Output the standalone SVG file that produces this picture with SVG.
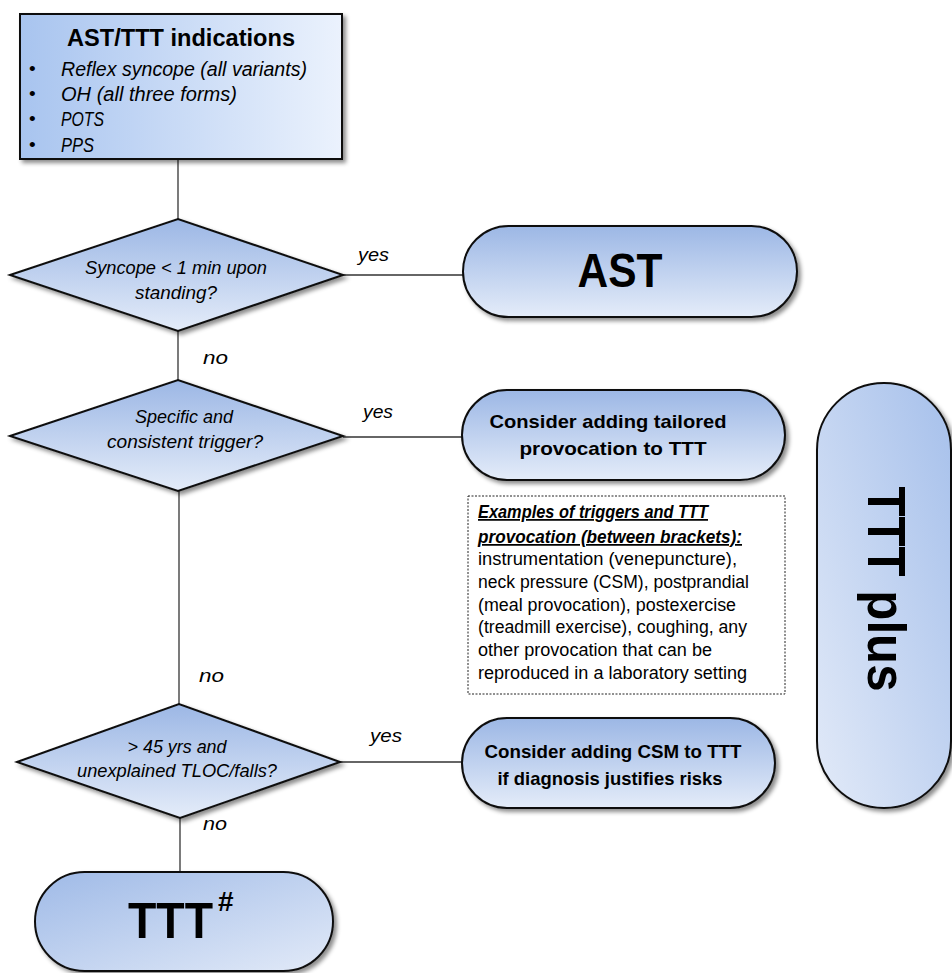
<svg xmlns="http://www.w3.org/2000/svg" width="952" height="973" viewBox="0 0 952 973">
<defs>
  <linearGradient id="gH" x1="0" y1="0" x2="1" y2="0">
    <stop offset="0" stop-color="#a8c4ef"/>
    <stop offset="1" stop-color="#ebf2fd"/>
  </linearGradient>
  <linearGradient id="gV" x1="0" y1="0" x2="0" y2="1">
    <stop offset="0" stop-color="#9cb7e5"/>
    <stop offset="1" stop-color="#e4ecf9"/>
  </linearGradient>
  <linearGradient id="gPlus" x1="1" y1="0" x2="0" y2="1">
    <stop offset="0" stop-color="#a6c0eb"/>
    <stop offset="1" stop-color="#e2eaf8"/>
  </linearGradient>
  <linearGradient id="gTTT" x1="0" y1="0" x2="1" y2="1">
    <stop offset="0" stop-color="#9fbae7"/>
    <stop offset="1" stop-color="#e2eaf8"/>
  </linearGradient>
  <filter id="sh" x="-10%" y="-10%" width="130%" height="130%">
    <feDropShadow dx="3" dy="3" stdDeviation="2" flood-color="#000" flood-opacity="0.45"/>
  </filter>
</defs>
<style>
  .shape{stroke:#111;stroke-width:2;filter:url(#sh)}
  .t{font-family:"Liberation Sans",Arial,sans-serif;fill:#000}
  .b{font-weight:bold}
  .i{font-style:italic}
  .c{text-anchor:middle}
  .conn{stroke:#333;stroke-width:1.3;fill:none}
  .lbl{font-family:"Liberation Sans",Arial,sans-serif;font-style:italic;font-size:19px;fill:#000}
</style>
<rect width="952" height="973" fill="#fff"/>

<g id="connectors">
  <line class="conn" x1="178" y1="160" x2="178" y2="219"/>
  <line class="conn" x1="343" y1="275" x2="463" y2="275"/>
  <line class="conn" x1="178" y1="331" x2="178" y2="380"/>
  <line class="conn" x1="343" y1="437" x2="462" y2="437"/>
  <line class="conn" x1="179" y1="491" x2="179" y2="704"/>
  <line class="conn" x1="340" y1="762" x2="462" y2="762"/>
  <line class="conn" x1="180" y1="818" x2="180" y2="872"/>
  <text class="lbl" x="358" y="261" textLength="31" lengthAdjust="spacingAndGlyphs">yes</text>
  <text class="lbl" x="203" y="364" textLength="25" lengthAdjust="spacingAndGlyphs">no</text>
  <text class="lbl" x="363" y="418" textLength="30" lengthAdjust="spacingAndGlyphs">yes</text>
  <text class="lbl" x="199" y="682" textLength="25" lengthAdjust="spacingAndGlyphs">no</text>
  <text class="lbl" x="370" y="742" textLength="32" lengthAdjust="spacingAndGlyphs">yes</text>
  <text class="lbl" x="203" y="830" textLength="24" lengthAdjust="spacingAndGlyphs">no</text>
</g>

<g id="indications">
  <rect class="shape" x="20" y="14" width="322" height="145" fill="url(#gH)"/>
  <text class="t b c" x="181" y="46" font-size="24" textLength="228" lengthAdjust="spacingAndGlyphs">AST/TTT indications</text>
  <g class="t" font-size="19">
    <text x="29" y="75">•</text>
    <text x="29" y="100">•</text>
    <text x="29" y="125">•</text>
    <text x="29" y="151">•</text>
  </g>
  <g class="t i" font-size="20">
    <text x="61" y="76" textLength="246" lengthAdjust="spacingAndGlyphs">Reflex syncope (all variants)</text>
    <text x="61" y="101" textLength="176" lengthAdjust="spacingAndGlyphs">OH (all three forms)</text>
    <text x="61" y="126" textLength="43" lengthAdjust="spacingAndGlyphs">POTS</text>
    <text x="61" y="152" textLength="33" lengthAdjust="spacingAndGlyphs">PPS</text>
  </g>
</g>

<g id="q1">
  <polygon class="shape" points="10,275 178,219 343,275 178,331" fill="url(#gV)"/>
  <text class="t i c" x="176" y="274" font-size="18" textLength="182" lengthAdjust="spacingAndGlyphs">Syncope &lt; 1 min upon</text>
  <text class="t i c" x="176" y="299" font-size="18" textLength="82" lengthAdjust="spacingAndGlyphs">standing?</text>
</g>

<g id="ast">
  <rect class="shape" x="463" y="226" width="334" height="91" rx="45.5" fill="url(#gV)"/>
  <text class="t b c" x="620" y="287" font-size="49" textLength="85" lengthAdjust="spacingAndGlyphs">AST</text>
</g>

<g id="q2">
  <polygon class="shape" points="10,436 178,380 343,436 178,491" fill="url(#gV)"/>
  <text class="t i c" x="184" y="423" font-size="18" textLength="98" lengthAdjust="spacingAndGlyphs">Specific and</text>
  <text class="t i c" x="185" y="448" font-size="18" textLength="156" lengthAdjust="spacingAndGlyphs">consistent trigger?</text>
</g>

<g id="tailored">
  <rect class="shape" x="462" y="390" width="323" height="90" rx="45" fill="url(#gV)"/>
  <text class="t b c" x="608" y="428" font-size="19" textLength="237" lengthAdjust="spacingAndGlyphs">Consider adding  tailored</text>
  <text class="t b c" x="613" y="455" font-size="19" textLength="187" lengthAdjust="spacingAndGlyphs">provocation  to TTT</text>
</g>

<g id="examples">
  <rect x="468" y="496" width="317" height="198" fill="#fff" stroke="#222" stroke-width="1" stroke-dasharray="2,1.5"/>
  <g class="t" font-size="17.5">
    <text class="b i" x="478" y="518" text-decoration="underline" textLength="230" lengthAdjust="spacingAndGlyphs">Examples of triggers and TTT</text>
    <text class="b i" x="478" y="543" text-decoration="underline" textLength="264" lengthAdjust="spacingAndGlyphs">provocation (between brackets):</text>
    <text x="478" y="565" textLength="259" lengthAdjust="spacingAndGlyphs">instrumentation (venepuncture),</text>
    <text x="478" y="588" textLength="271" lengthAdjust="spacingAndGlyphs">neck pressure (CSM), postprandial</text>
    <text x="478" y="611" textLength="258" lengthAdjust="spacingAndGlyphs">(meal provocation), postexercise</text>
    <text x="478" y="633" textLength="269" lengthAdjust="spacingAndGlyphs">(treadmill exercise), coughing, any</text>
    <text x="478" y="656" textLength="234" lengthAdjust="spacingAndGlyphs">other provocation that can be</text>
    <text x="478" y="679" textLength="269" lengthAdjust="spacingAndGlyphs">reproduced in a laboratory setting</text>
  </g>
</g>

<g id="tttplus">
  <rect class="shape" x="817" y="383" width="134" height="425" rx="67" fill="url(#gPlus)"/>
  <text class="t b c" transform="translate(868,589) rotate(90)" x="0" y="0" font-size="54" textLength="205" lengthAdjust="spacingAndGlyphs">TTT plus</text>
</g>

<g id="q3">
  <polygon class="shape" points="17,762 179,704 340,762 180,818" fill="url(#gV)"/>
  <text class="t i c" x="177" y="753" font-size="18" textLength="99" lengthAdjust="spacingAndGlyphs">&gt; 45 yrs and</text>
  <text class="t i c" x="177" y="777" font-size="18" textLength="200" lengthAdjust="spacingAndGlyphs">unexplained TLOC/falls?</text>
</g>

<g id="csm">
  <rect class="shape" x="462" y="718" width="313" height="90" rx="45" fill="url(#gV)"/>
  <text class="t b c" x="613" y="758" font-size="19" textLength="257" lengthAdjust="spacingAndGlyphs">Consider adding  CSM to TTT</text>
  <text class="t b c" x="610" y="785" font-size="19" textLength="225" lengthAdjust="spacingAndGlyphs">if diagnosis  justifies risks</text>
</g>

<g id="ttt">
  <rect class="shape" x="35" y="872" width="298" height="99" rx="49.5" fill="url(#gTTT)"/>
  <text class="t b" x="128" y="938" font-size="50"><tspan textLength="85" lengthAdjust="spacingAndGlyphs">TTT</tspan><tspan x="218" y="911" font-size="28" font-style="normal">#</tspan></text>
</g>
</svg>
